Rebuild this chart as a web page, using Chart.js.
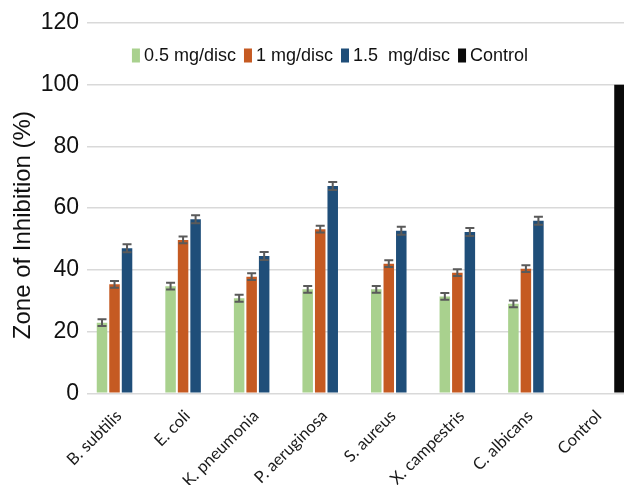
<!DOCTYPE html>
<html>
<head>
<meta charset="utf-8">
<script src="https://cdn.jsdelivr.net/npm/chart.js@4/dist/chart.umd.min.js"></script>
<style>
  html, body { margin: 0; padding: 0; background: #fff; overflow: hidden; }
  #wrap { width: 624px; height: 485px; overflow: hidden; position: relative; }
  canvas { display: block; }
</style>
</head>
<body>
<div id="wrap"><canvas id="c" width="660" height="485" style="width:660px;height:485px"></canvas></div>
<script>
// Organisms tested, plus the control column
const categories = ['B. subtilis', 'E. coli', 'K. pneumonia', 'P. aeruginosa',
                    'S. aureus', 'X. campestris', 'C. albicans', 'Control'];
const seriesNames = ['0.5 mg/disc', '1 mg/disc', '1.5  mg/disc', 'Control'];

// Zone of inhibition (%) per dose
const dose05 = [22.9, 34.7, 30.8, 33.7, 33.7, 31.4, 29.0, 0];
const dose1  = [35.3, 49.7, 37.8, 53.2, 42.0, 39.1, 40.4, 0];
const dose15 = [47.0, 56.4, 44.5, 67.2, 52.7, 52.3, 55.9, 0];
const controlValues = [0, 0, 0, 0, 0, 0, 0, 100];

// Standard deviations shown as error bars
const err05 = [1.1, 1.1, 1.1, 1.1, 1.1, 1.1, 1.1, null];
const err1  = [1.1, 1.1, 1.1, 1.1, 1.1, 1.1, 1.1, null];
const err15 = [1.3, 1.3, 1.3, 1.3, 1.3, 1.3, 1.3, null];
const errControl = [null, null, null, null, null, null, null, null];

const yTicks = [0, 20, 40, 60, 80, 100, 120];
const yTitle = 'Zone of Inhibition (%)';

const colors = ['#a9d18e', '#c55a22', '#1f4e79', '#0a0a0a'];

// Draws whiskers with caps on top of each bar
const errorBars = {
  id: 'errorBars',
  afterDatasetsDraw(chart) {
    const ctx = chart.ctx;
    const y = chart.scales.y;
    ctx.save();
    ctx.strokeStyle = '#5a5a5a';
    ctx.lineWidth = 2;
    chart.data.datasets.forEach((ds, di) => {
      const meta = chart.getDatasetMeta(di);
      ds.errors.forEach((e, i) => {
        if (e == null) return;
        const bar = meta.data[i];
        const v = ds.data[i];
        const top = y.getPixelForValue(v + e);
        const bot = y.getPixelForValue(v - e);
        const cx = bar.x, half = 4.5;
        ctx.beginPath();
        ctx.moveTo(cx, top); ctx.lineTo(cx, bot);
        ctx.moveTo(cx - half, top); ctx.lineTo(cx + half, top);
        ctx.moveTo(cx - half, bot); ctx.lineTo(cx + half, bot);
        ctx.stroke();
      });
    });
    ctx.restore();
  }
};

// Single-row legend drawn inside the plot, between the two top gridlines
const inlineLegend = {
  id: 'inlineLegend',
  afterDraw(chart) {
    const ctx = chart.ctx;
    const boxW = 8, boxH = 14, gapText = 4, gapItem = 8;
    const cx = 330, cy = 55.5;
    ctx.save();
    ctx.font = '18px "Liberation Sans"';
    ctx.textBaseline = 'middle';
    const items = chart.data.datasets.map(ds => ({
      text: ds.label, color: ds.backgroundColor, w: ctx.measureText(ds.label).width
    }));
    const total = items.reduce((s, it) => s + boxW + gapText + it.w, 0) + gapItem * (items.length - 1);
    let x = cx - total / 2;
    items.forEach(it => {
      ctx.fillStyle = it.color;
      ctx.fillRect(x, cy - boxH / 2, boxW, boxH);
      x += boxW + gapText;
      ctx.fillStyle = '#111';
      ctx.fillText(it.text, x, cy + 1);
      x += it.w + gapItem;
    });
    ctx.restore();
  }
};

// Vertical axis title, set a little below the plot's middle
const axisTitle = {
  id: 'axisTitle',
  afterDraw(chart) {
    const ctx = chart.ctx;
    const a = chart.chartArea;
    ctx.save();
    ctx.translate(23, (a.top + a.bottom) / 2 + 17);
    ctx.rotate(-Math.PI / 2);
    ctx.font = '24px "Liberation Sans"';
    ctx.fillStyle = '#111';
    ctx.textAlign = 'center';
    ctx.textBaseline = 'middle';
    ctx.fillText(yTitle, 0, 0);
    ctx.restore();
  }
};

const series = [dose05, dose1, dose15, controlValues];
const errs = [err05, err1, err15, errControl];

new Chart(document.getElementById('c'), {
  type: 'bar',
  data: {
    labels: categories,
    datasets: series.map((d, i) => ({
      label: seriesNames[i],
      data: d,
      errors: errs[i],
      backgroundColor: colors[i],
      borderWidth: 0,
      barPercentage: 0.84,
      categoryPercentage: 0.73
    }))
  },
  options: {
    responsive: false,
    animation: false,
    layout: { padding: { top: 23, right: 25, left: 0, bottom: 0 } },
    plugins: {
      tooltip: { enabled: false },
      legend: { display: false }
    },
    scales: {
      x: {
        grid: { display: false },
        border: { display: false },
        ticks: {
          autoSkip: false,
          minRotation: 45,
          maxRotation: 45,
          padding: 5,
          labelOffset: -2,
          color: '#1a1a1a',
          font: { family: 'Lato', size: 16.5 }
        },
        afterFit(s) { s.height = 91.7; }
      },
      y: {
        min: 0,
        max: 120,
        afterBuildTicks(s) { s.ticks = yTicks.map(v => ({ value: v })); },
        grid: { color: '#d9d9d9', lineWidth: 1.5, drawTicks: false },
        border: { display: false },
        ticks: {
          padding: 7.5,
          color: '#111',
          font: { family: 'Liberation Sans', size: 23 }
        },
        afterFit(s) { s.width = 86.5; }
      }
    }
  },
  plugins: [errorBars, inlineLegend, axisTitle]
});
</script>
</body>
</html>
